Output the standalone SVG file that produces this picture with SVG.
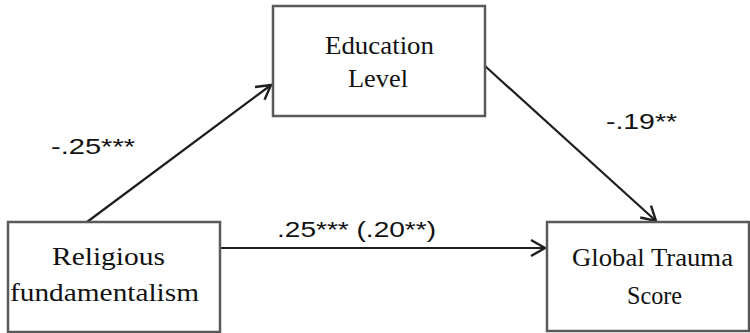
<svg xmlns="http://www.w3.org/2000/svg" width="750" height="333" viewBox="0 0 750 333">
<style>
.box{fill:#fff;stroke:#5a5a5a;stroke-width:2.5}
.nt{font-family:"Liberation Serif","Times New Roman",serif;font-size:26px;fill:#111}
.lb{font-family:"Liberation Sans",Arial,sans-serif;font-size:22px;fill:#111}
.edge{stroke:#1e1e1e;stroke-width:2.2;fill:none}
</style>
<defs>
<marker id="arr" markerUnits="userSpaceOnUse" markerWidth="20" markerHeight="20" viewBox="-16 -10 20 20" refX="0" refY="0" orient="auto">
<path d="M-14,-8 L0,0 L-14,8" fill="none" stroke="#1e1e1e" stroke-width="2.4" stroke-linejoin="miter"/>
</marker>
</defs>
<rect width="750" height="333" fill="#fff"/>
<g id="connectors">
<line class="edge" x1="87" y1="222" x2="271" y2="85" marker-end="url(#arr)"/>
<line class="edge" x1="485" y1="66" x2="656" y2="221" marker-end="url(#arr)"/>
<line class="edge" x1="220" y1="248" x2="545" y2="248" marker-end="url(#arr)"/>
</g>
<g id="education">
<rect class="box" x="273" y="6" width="212" height="110"/>
<text class="nt" x="325" y="54" textLength="109" lengthAdjust="spacingAndGlyphs">Education</text>
<text class="nt" x="348" y="87" textLength="60" lengthAdjust="spacingAndGlyphs">Level</text>
</g>
<g id="religious">
<rect class="box" x="8" y="222" width="212" height="110"/>
<text class="nt" x="52" y="265" textLength="113" lengthAdjust="spacingAndGlyphs">Religious</text>
<text class="nt" x="10" y="301" textLength="189" lengthAdjust="spacingAndGlyphs">fundamentalism</text>
</g>
<g id="trauma">
<rect class="box" x="547" y="222" width="202" height="109"/>
<text class="nt" x="572" y="266" textLength="161" lengthAdjust="spacingAndGlyphs">Global Trauma</text>
<text class="nt" x="627" y="304" textLength="55" lengthAdjust="spacingAndGlyphs">Score</text>
</g>
<g id="labels">
<text class="lb" x="51" y="154" textLength="84" lengthAdjust="spacingAndGlyphs">-.25***</text>
<text class="lb" x="606" y="129" textLength="71" lengthAdjust="spacingAndGlyphs">-.19**</text>
<text class="lb" x="277" y="237" textLength="159" lengthAdjust="spacingAndGlyphs">.25*** (.20**)</text>
</g>
</svg>
